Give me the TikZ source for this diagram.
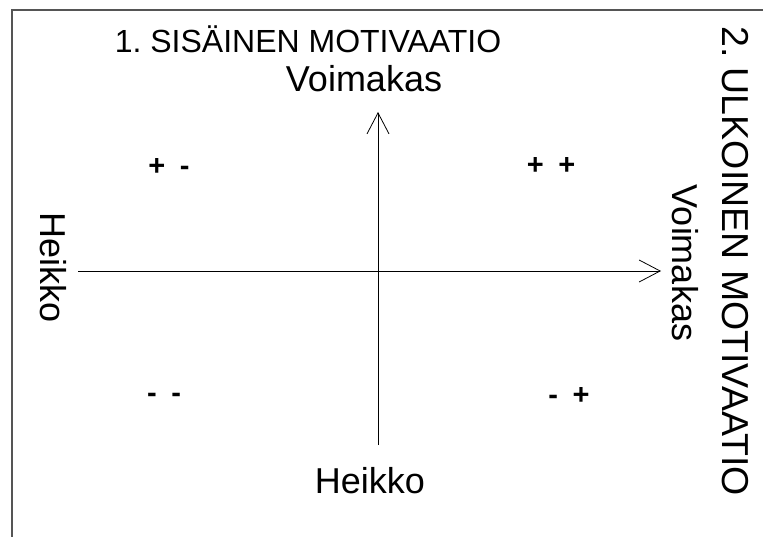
\documentclass[tikz,border=0pt]{standalone}
\usepackage{fontspec}
\setmainfont{Liberation Sans}
\usetikzlibrary{arrows.meta}
\frenchspacing

\definecolor{frame_gray}{RGB}{85,85,85}

\begin{document}
\begin{tikzpicture}[
    x=1pt, y=-1pt,
    axis/.style={line width=0.9pt, -{Straight Barb[length=21pt, width=22pt, line width=0.8pt]}},
    title/.style={font=\fontsize{32}{38}\selectfont, anchor=base, inner sep=0pt},
    label/.style={font=\fontsize{36}{43}\selectfont, anchor=base, inner sep=0pt},
    sign/.style={font=\fontsize{29}{35}\selectfont\bfseries, inner sep=0pt}
]
    \useasboundingbox (0,0) rectangle (763,537);

    % Frame
    \draw[frame_gray, line width=2pt] (12,537) -- (12,10) -- (763,10);

    % Axis ends
    \coordinate (xl) at (78,271);
    \coordinate (xr) at (661,271);
    \coordinate (yb) at (378,445);
    \coordinate (yt) at (378,112);

    % Axes
    \draw[axis] (xl) -- (xr);
    \draw[axis] (yb) -- (yt);

    % Titles
    \node[title] (t1) at (308,53) {1. SIS\"AINEN MOTIVAATIO};
    \node[title, font=\fontsize{37.5}{44}\selectfont, rotate=-90] (t2) at (722,261)
        {2. ULKOINEN MOTIVAATIO};

    % Axis labels
    \node[label] (ytop) at (364,92) {Voimakas};
    \node[label] (ybot) at (370,493) {Heikko};
    \node[label, rotate=-90] (xleft) at (40,268) {Heikko};
    \node[label, rotate=-90] (xright) at (672,263) {Voimakas};

    % Quadrant signs
    \node[sign] (q1) at (169,167) {+\enspace-};
    \node[sign] (q2) at (551,166) {+\enspace+};
    \node[sign] (q3) at (164,398) {-\enspace-};
    \node[sign] (q4) at (569,396) {-\enspace+};

\end{tikzpicture}
\end{document}
